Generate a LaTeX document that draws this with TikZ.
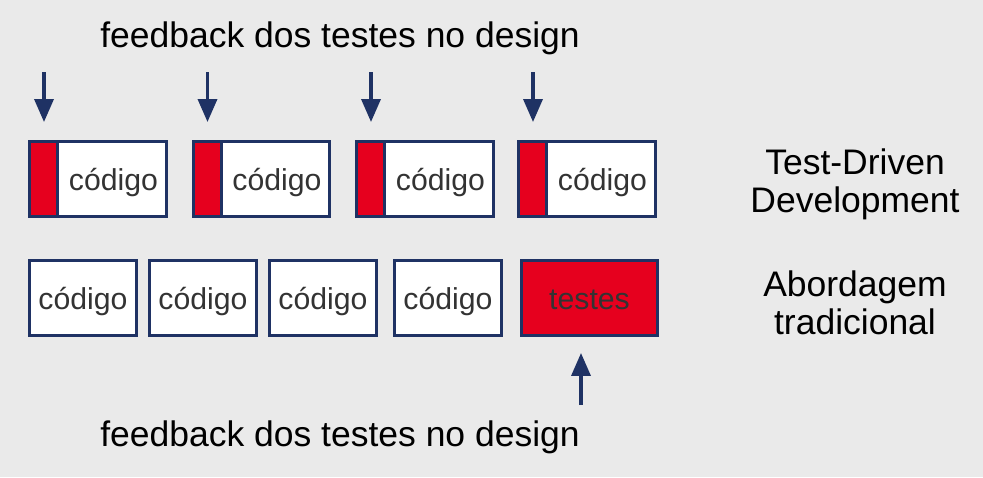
\documentclass[tikz,border=0pt]{standalone}
\usepackage{fontspec}
\setmainfont{Liberation Sans}
\usetikzlibrary{arrows.meta}
\definecolor{fundo}{HTML}{EAEAEA}
\definecolor{vermelho}{HTML}{E6001E}
\definecolor{azul}{HTML}{1F3264}
\definecolor{cinza}{HTML}{333333}
\tikzset{
  caixa/.style={draw=azul, line width=1.7pt, fill=white, minimum height=1.5cm, inner sep=0pt},
  barra/.style={draw=azul, line width=1.7pt, fill=vermelho, minimum width=0.56cm, minimum height=1.5cm, inner sep=0pt},
  seta/.style={draw=azul, line width=2pt, -{Triangle[length=0.46cm,width=0.38cm]}},
  rotulo/.style={font=\fontsize{20.2}{21.8}\selectfont, align=center},
  codigo/.style={font=\fontsize{17.2}{20}\selectfont, text=cinza, text height=16pt, text depth=3pt}
}
\begin{document}
\begin{tikzpicture}[x=0.02cm,y=-0.02cm]
\fill[fundo] (0,0) rectangle (983,477);
\useasboundingbox (0,0) rectangle (983,477);

\node[rotulo] (fbcima) at (340,38) {feedback dos testes no design};
\foreach \i/\x in {1/98,2/261.5,3/425,4/587}
{
  \node[caixa, minimum width=2.74cm] (tdd\i) at (\x,179) {};
  \node[barra, anchor=west] (red\i) at (tdd\i.west) {};
  \path (red\i.east) -- (tdd\i.east) node[midway, codigo] (cod\i) {código};
  \coordinate (topo\i) at (\x-54,72);
  \draw[seta, shorten >=0.36cm] (topo\i) -- (topo\i |- red\i.north);
}
\node[rotulo] (tddlab) at (855,184) {Test-Driven\\Development};

\foreach \i/\x in {1/83,2/203,3/323,4/448}
{
  \node[caixa, codigo, minimum width=2.14cm] (trad\i) at (\x,298) {código};
}
\node[caixa, codigo, fill=vermelho, minimum width=2.72cm] (testes) at (589.5,298) {testes};
\coordinate (base) at (581,405);
\draw[seta, shorten >=0.32cm] (base) -- (base |- testes.south);
\node[rotulo] (tradlab) at (855,303) {Abordagem\\tradicional};
\node[rotulo] (fbbaixo) at (340,437) {feedback dos testes no design};
\end{tikzpicture}
\end{document}
